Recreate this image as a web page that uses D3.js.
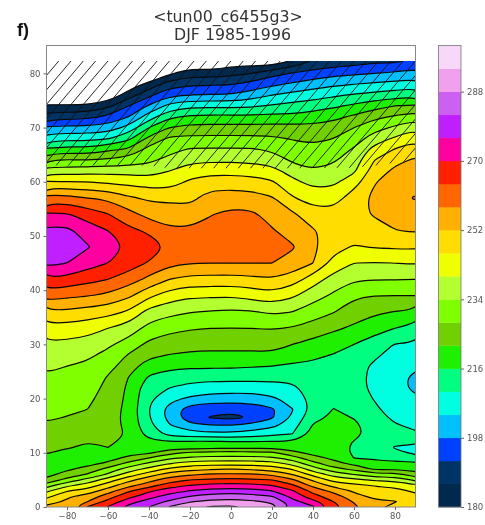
<!DOCTYPE html>
<html><head><meta charset="utf-8">
<script src="https://cdn.jsdelivr.net/npm/d3@7"></script>
<style>html,body{margin:0;padding:0;background:#fff}svg{display:block;filter:blur(0.35px)}
text{font-family:"DejaVu Sans",sans-serif}</style></head>
<body><svg id="c" width="485" height="525"></svg>
<script>
const longitudes = d3.range(-90, 91, 10);
const latitudes = [0,1,2,3,4,5,6,7,8,9,10,11,12,13.5,15,16.5,18,20,22,24,26,28,30,33,36,39,42,45,48,51,54,57,60,62,64,66,68,70,72,74,76,78,80,82.3];
const levels = d3.range(180, 301, 6);
const bandColors = ["#00294d","#003366","#0040ff","#00c0ff","#00ffe0","#00ff80","#1fef00","#70d000","#80ff00","#b4ff30","#f0ff00","#ffdd00","#ffb000","#ff6600","#ff2000","#ff00a0","#c020ff","#cc60f0","#f0a0ec","#f8d8f8"];
const colorbarTicks = [180,198,216,234,252,270,288];
const lonTicks = [-80,-60,-40,-20,0,20,40,60,80];
const latTicks = [0,10,20,30,40,50,60,70,80];
const titleLines = ["<tun00_c6455g3>","DJF 1985-1996"];
const panelLabel = "f)";
const hatchLower = [63,63,63,63,63,63,62.5,62.5,62.5,62.5,62.5,62.5,62.5,62.5,62.6,62.6,63,63.5,64];
// temperature by longitude column (-90 ... 90), each running up the latitudes
const temperature = [
[253.5,249,244,238.5,231,223.5,220,219,219.5,221,222.2,223.2,224.3,225.8,227.4,228.6,229.6,231,232,233.4,235.2,237,239.2,244,251.5,260.7,269.5,277.5,281,277.5,271,260.5,246.5,237.6,227,217,207,199,189,181,172,164,156,146],
[254,253,251,245.5,238.5,230,224.5,221,220,220.5,221,222.3,223.2,224.8,226.3,227.8,228.8,230.2,231.4,232.7,234,236.2,238.4,243.5,250.7,259.2,268,276,280,277.5,270.5,260.3,246,236.8,228.5,218.4,208,199.5,189.6,181,172,164,156,146],
[264.5,258,254,248.5,242.5,236,228.5,224,220.5,220,220.5,221.5,222,223,224,226,228,229.3,230.5,231.6,233,235,237.6,242.5,249.5,258.3,266,272.6,276.5,273,267.5,258,246,237.8,228,218,208,199.7,190.3,181,172,164,157,148],
[270.5,266,261,255,249,243,235,230,223,220.5,220.8,222,223,223.5,224,224.5,225,225.5,226.5,227.6,230,232.4,235,240,248.3,256.8,264,270,273,270,264.3,257,245,237.7,229,220.8,209.5,200.5,193.3,184.5,175,167,160,150],
[278,273,268,263,256,250,243,236.5,230,223,221,220.5,220.5,221.6,220.8,220.3,220.3,220.8,221,222,225,227.5,231.4,237.5,245.2,253.2,261,267,269.5,265.5,260,253,244,238,230.6,222.5,214.5,206,198,192,183,176,168,158],
[282,279,273,269,261,256,249,242,235.5,228.5,221,219.5,217.5,213.5,211.5,210.5,210,211,212,215.5,218.5,223.5,226.5,232,237.8,247.3,256.4,263.5,267,263,256,251,243,237,232.7,230,223.5,216,207,198.8,190.5,182,172,162],
[288.5,283,278.5,273,267.5,261,255,247.5,240,233,226,219.7,216.3,208,204.5,202,202,205.5,210,213,217.7,221.7,225,229.5,235.7,243,252,259.5,263.3,258.8,255.5,250.5,243,240,236,232,229,222,215,206,197,189,179,170],
[293,287.5,282,276,270,264,257,250.5,243,235.5,229,219.5,217,206.5,199.5,194.5,194.8,203,208,212.5,217,221,224,228.5,234.3,241,250,258.1,260,259,254.5,250.5,247,243,238.6,234.5,229.5,224,217,208.7,198,191,183.5,174],
[294.5,289.5,284.5,278,272,265,259,251,244,236,230,220,217,205.5,198.5,191.7,193.4,201.4,207.3,212,217,220.6,224,228,233.5,241,250,258,260.5,260,257.7,254.5,249,244,239,234.5,229.5,224,217.5,208.7,198.5,191.3,183,172],
[295,290,285,279,272,266,259,252,244,236,230,220,216.5,205.5,198.3,190.3,193.4,201,207,212,217,220.6,224,228,233,240.6,249.8,258,261,261,259.5,255,249,244,239,234.5,229.5,224,217.4,208.5,198.5,191.6,184.5,176],
[293,289,284,278,272,265,259,251,244,236,230,220,216.5,206.5,200,192.3,194.5,201,207,212,216.5,220.6,224,228,233.5,242,250.5,258,260.5,261,259,254.5,248.5,243.5,238.6,234.5,229.5,224,217.4,209,201,194,186,176],
[290,287,282,276,270,264,257,250,243,235.5,229,221,216.5,208.5,202.5,197.3,197,203,207.5,212,216,221,224,228.4,235,244,251.5,258,259.5,258.5,256,252.6,246.7,242,237.5,233,229,224,217.7,210.7,204,196.8,190,175],
[281,278,274,270.5,265,259,252,245.5,238,231.5,223.5,219.5,216.5,210,207.5,205,203.8,206.2,209,211.5,215,219,222,227.6,234,241,249,256,258.6,255.5,253,246.5,241.5,237.5,233,230.5,227.6,224,217.5,212,206,199,192.5,180],
[277,272,266,262,256,251,244,237,230.5,224,220.5,219.5,219,218,216.5,214.5,212,212,212.5,213.5,215,217,220,225.5,231,236.5,243,252,253.5,252.5,248.5,243.5,238,234.4,231,229,227,223.5,219,213,207.5,201,194.5,186],
[267,264,261,256,250,244,237.5,230,224,221,220,219.5,219,218.5,218,217,216.2,214.5,213.5,213.5,214.5,215.7,218.5,223,228.3,233,237.5,244,248,250,248,243.5,238.8,236,233.3,231,228,224.5,220.5,215,209,203,196,188],
[259,257.5,254,251,247.5,241.5,234,226.5,220.5,216,215,215,215.7,218,217.5,215.8,214,212.8,212,212,212.2,213.2,216,221,225,228.8,234.5,240,245.5,249,250.5,249,243.4,239,237,234.6,231,228,223,217.2,210.7,204,197,189],
[255,253,250.5,248.5,245.5,239,230,221,218,215.3,214.6,214,213.5,213,212.5,212,211,209.7,208.7,208.6,209,211,213.5,218,223,228,234.2,239.7,246.5,249.8,252.5,253.5,251.5,249,246,242,237,231.7,226.7,219.7,212,205,198,191],
[249.5,252.3,250,247.5,244.5,238,230,221.5,217.5,214,211.5,209.5,211.5,211.5,210.5,209,207.5,206.2,205.5,205.7,206.5,207.8,209.7,216,221.8,228,234.2,240,246.8,251.8,255,257,255.5,253.2,250.5,246.3,240.8,235,228.7,222,213,206,199,190.5],
[246.5,249.5,247.5,245,241,233,225,220,217.5,213,209,208.5,211,210.7,209,207.5,206.5,204.8,203,203,205,207,209.5,214,221,228,234,240.5,247,252.7,256,258.3,256.7,254.5,252.8,249.5,244.5,239,231.5,223,215,207,200,194]
];

const plot = {left:46.5, right:415.5, top:45.5, bottom:507};
const x = d3.scaleLinear().domain([-90,90]).range([plot.left, plot.right]);
const y = d3.scaleLinear().domain([0,85.15]).range([plot.bottom, plot.top]);
const gridToLat = d3.scaleLinear().domain(latitudes.map((_,i)=>i+0.5)).range(latitudes);
const gridToLon = d3.scaleLinear().domain([0.5,18.5]).range([-90,90]);
const svg = d3.select("#c");
const defs = svg.append("defs");
defs.append("clipPath").attr("id","dataClip").append("rect")
  .attr("x",x(-90)).attr("y",y(82.3)).attr("width",x(90)-x(-90)).attr("height",y(0)-y(82.3));

svg.append("rect").attr("x",plot.left).attr("y",plot.top).attr("width",plot.right-plot.left)
  .attr("height",plot.bottom-plot.top).attr("fill","#fff");

// flatten the table row by row for d3.contours
const nx = longitudes.length, ny = latitudes.length;
const flat = new Array(nx*ny);
temperature.forEach((col,i)=>col.forEach((v,j)=>{flat[j*nx+i]=v;}));
const bands = d3.contours().size([nx,ny]).thresholds(levels.slice(0,-1))(flat);

const latOf = g => g<0.5 ? latitudes[0]-(0.5-g)*2 : g>ny-0.5 ? latitudes[ny-1]+(g-ny+0.5)*2 : gridToLat(g);
const ringLine = d3.line().curve(d3.curveBasisClosed);
const bandPath = d => d.coordinates.map(poly=>poly.map(ring=>
  ringLine(ring.slice(0,-1).map(p=>[x(gridToLon(p[0])), y(latOf(p[1]))]))).join("")).join("");

const g = svg.append("g").attr("clip-path","url(#dataClip)");
g.selectAll("path.fill").data(bands).join("path").attr("class","fill")
  .attr("d",bandPath).attr("fill",(d,i)=>bandColors[i]).attr("fill-rule","evenodd")
  .attr("stroke",(d,i)=>bandColors[i]).attr("stroke-width",0.3);
g.selectAll("path.line").data(bands).join("path").attr("class","line")
  .attr("d",bandPath).attr("fill","none").attr("stroke","#0a0a0a").attr("stroke-width",1.2).attr("stroke-linejoin","round");

// hatching of the upper region
const hatchArea = d3.area().x((d,i)=>x(longitudes[i])).y0(d=>y(d)).y1(y(82.3));
defs.append("clipPath").attr("id","hatchClip").append("path").attr("d",hatchArea(hatchLower));
const hatchStep = 12.3;
const hatchTop = y(82.3), hatchBottom = y(60), rise = hatchBottom-hatchTop, run = rise*0.85;
const hatchStarts = d3.range(plot.left-run, plot.right+hatchStep, hatchStep);
svg.append("g").attr("clip-path","url(#hatchClip)").selectAll("line").data(hatchStarts).join("line")
  .attr("x1",d=>d).attr("y1",hatchBottom).attr("x2",d=>d+run).attr("y2",hatchTop)
  .attr("stroke","#111").attr("stroke-width",0.9);

// frame and axes
svg.append("rect").attr("x",plot.left).attr("y",plot.top).attr("width",plot.right-plot.left)
  .attr("height",plot.bottom-plot.top).attr("fill","none").attr("stroke","#888").attr("stroke-width",1);
const styleAxis = a => {
  a.select(".domain").remove();
  a.selectAll("line").attr("stroke","#666");
  a.selectAll("text").attr("fill","#555").style("font-size","8.5px").style("font-family",'"DejaVu Sans",sans-serif');
};
svg.append("g").attr("transform",`translate(0,${plot.bottom})`)
  .call(d3.axisBottom(x).tickValues(lonTicks).tickSize(3).tickPadding(3)).call(styleAxis);
svg.append("g").attr("transform",`translate(${plot.left},0)`)
  .call(d3.axisLeft(y).tickValues(latTicks).tickSize(3).tickPadding(3)).call(styleAxis);

// colorbar
const cb = {left:438.5, right:461};
const cy = d3.scaleLinear().domain([180,300]).range([507,45.5]);
svg.append("g").selectAll("rect").data(bandColors).join("rect")
  .attr("x",cb.left).attr("width",cb.right-cb.left)
  .attr("y",(d,i)=>cy(levels[i+1])).attr("height",(d,i)=>cy(levels[i])-cy(levels[i+1])+0.3)
  .attr("fill",d=>d);
svg.append("rect").attr("x",cb.left).attr("y",45.5).attr("width",cb.right-cb.left).attr("height",507-45.5)
  .attr("fill","none").attr("stroke","#777").attr("stroke-width",0.8);
svg.append("g").attr("transform",`translate(${cb.right},0)`)
  .call(d3.axisRight(cy).tickValues(colorbarTicks).tickSize(3).tickPadding(3)).call(styleAxis);

// titles
svg.append("g").selectAll("text").data(titleLines).join("text")
  .attr("x",(d,i)=>i?232.5:228).attr("y",(d,i)=>i?39.5:21.5).attr("text-anchor","middle")
  .attr("fill","#333").style("font-size","15.8px").text(d=>d);
svg.append("text").attr("x",17).attr("y",36).attr("fill","#111")
  .style("font-family",'"Liberation Sans",sans-serif').style("font-weight","bold").style("font-size","18px").text(panelLabel);
</script></body></html>
